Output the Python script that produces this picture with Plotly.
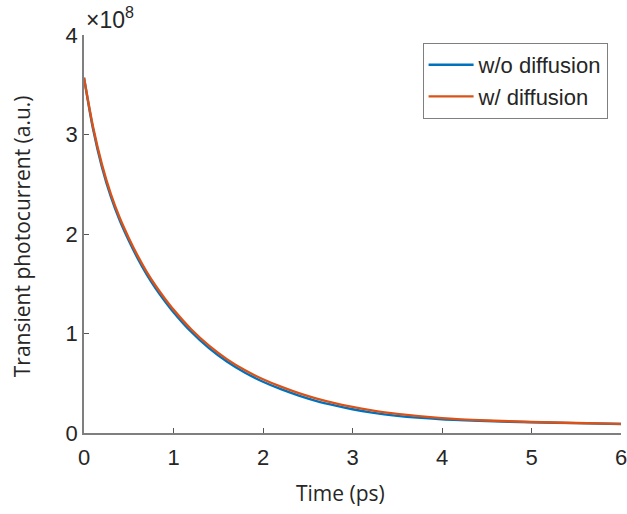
import plotly.graph_objects as go

# Time axis (ps)
time_ps = [0.0, 0.1, 0.2, 0.3, 0.4, 0.5, 0.6, 0.7, 0.8, 0.9, 1.0, 1.2, 1.4, 1.6, 1.8,
           2.0, 2.2, 2.4, 2.6, 2.8, 3.0, 3.2, 3.5, 4.0, 4.5, 5.0, 5.5, 6.0]

# Transient photocurrent (x1e8 a.u.)
with_diffusion = [3.57, 3.08, 2.70, 2.40, 2.16, 1.96, 1.78, 1.62, 1.48, 1.355, 1.24, 1.04,
                  0.875, 0.74, 0.63, 0.54, 0.465, 0.40, 0.345, 0.30, 0.262, 0.23, 0.192,
                  0.15, 0.126, 0.111, 0.10, 0.092]
without_diffusion = [3.57, 3.06, 2.675, 2.375, 2.135, 1.935, 1.755, 1.595, 1.455, 1.33,
                     1.215, 1.015, 0.85, 0.715, 0.605, 0.515, 0.44, 0.376, 0.321, 0.277,
                     0.239, 0.207, 0.172, 0.138, 0.12, 0.108, 0.099, 0.091]

series_names = ["w/o diffusion", "w/ diffusion"]
series_colors = ["#0072BD", "#D95319"]

x_ticks = [0, 1, 2, 3, 4, 5, 6]
y_ticks = [0, 1, 2, 3, 4]

fig = go.Figure()
for name, vals, col in zip(series_names, [without_diffusion, with_diffusion], series_colors):
    fig.add_trace(go.Scatter(x=time_ps, y=vals, mode="lines", name=name,
                             line=dict(color=col, width=2.4, shape="spline", smoothing=0.8)))

axis_font = dict(family="Liberation Sans, Arial", size=22, color="#262626")
fig.update_layout(
    width=627, height=514,
    margin=dict(l=84, r=6, t=35, b=81, autoexpand=False),
    paper_bgcolor="white", plot_bgcolor="white",
    showlegend=True,
    legend=dict(x=0.975, y=0.98, xanchor="right", yanchor="top",
                bordercolor="#7f7f7f", borderwidth=1, bgcolor="white",
                font=dict(family="Liberation Sans, Arial", size=22, color="#262626"),
                itemwidth=45, tracegroupgap=0),
    xaxis=dict(range=[0, 6], tickvals=x_ticks, ticktext=[str(v) for v in x_ticks],
               ticks="inside", ticklen=5, tickcolor="#555555", showline=True,
               linecolor="#7f7f7f", linewidth=1.5, showgrid=False, zeroline=False,
               tickfont=axis_font, automargin=False, ticklabelstandoff=4,
               ticklabeloverflow="allow"),
    yaxis=dict(range=[0, 4], tickvals=y_ticks, ticktext=[str(v) for v in y_ticks],
               ticks="inside", ticklen=5, tickcolor="#555555", showline=True,
               linecolor="#7f7f7f", linewidth=1.5, showgrid=False, zeroline=False,
               tickfont=axis_font, automargin=False, ticklabeloverflow="allow"),
    annotations=[
        dict(text="×10<sup>8</sup>", xref="paper", yref="paper", x=0.0, y=1.0,
             xanchor="left", yanchor="bottom", showarrow=False,
             font=dict(family="Liberation Sans, Arial", size=23, color="#262626")),
        dict(text="Time (ps)", xref="paper", yref="paper", x=0.477, y=-0.152,
             xanchor="center", yanchor="middle", showarrow=False,
             font=dict(family="Open Sans", size=21, color="#262626")),
        dict(text="Transient photocurrent (a.u.)", xref="paper", yref="paper",
             x=-0.115, y=0.495, xanchor="center", yanchor="middle", textangle=-90,
             showarrow=False, font=dict(family="Open Sans", size=21, color="#262626")),
    ],
)

fig.write_html("out.html")
